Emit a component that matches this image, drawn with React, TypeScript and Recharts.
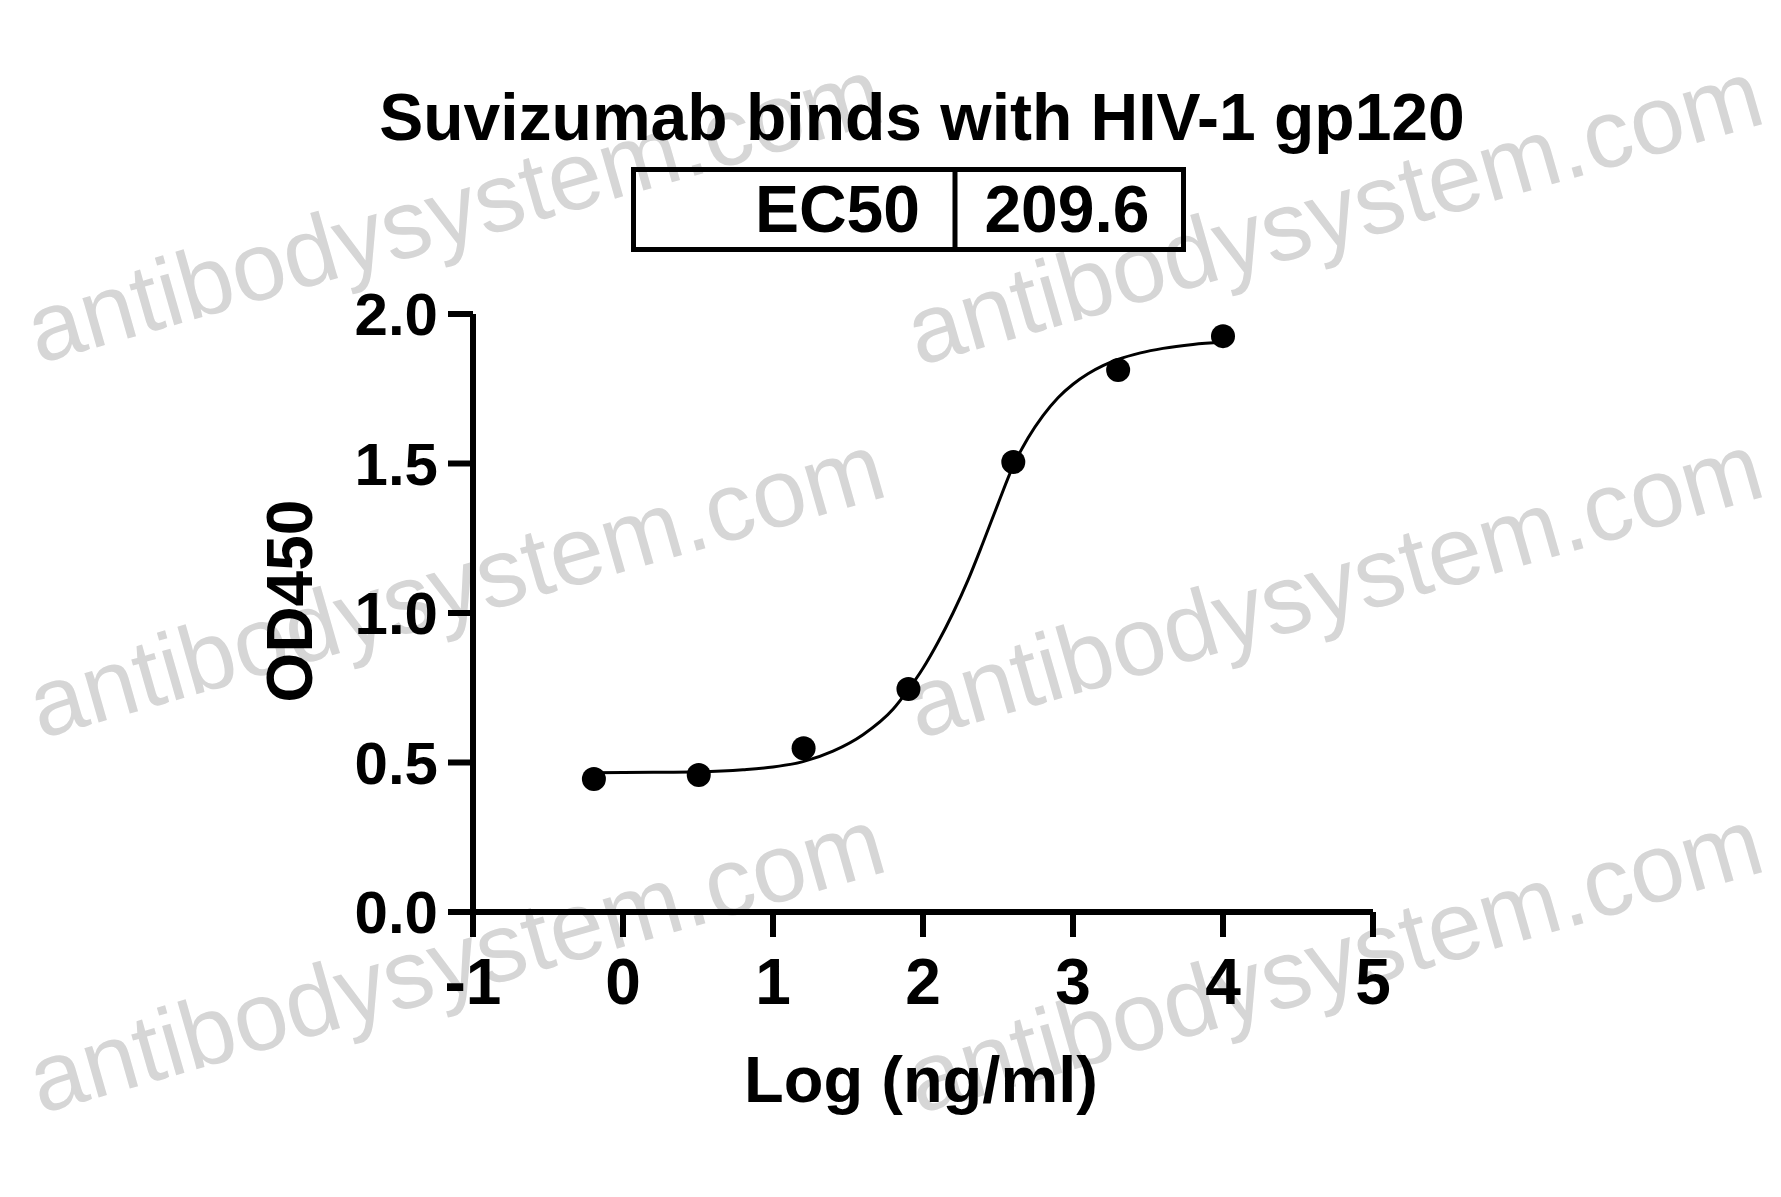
import React from "react";
import { ComposedChart, Line, Scatter, XAxis, YAxis } from "recharts";

// Measured points: log10 concentration (ng/ml) vs OD450
const logConc = [-0.194, 0.505, 1.204, 1.903, 2.602, 3.301, 4.0];
const od450 = [0.445, 0.458, 0.548, 0.746, 1.505, 1.813, 1.926];

// Fitted curve
const curveX = [-0.194, 0.2, 0.5, 0.8, 1.0, 1.2, 1.4, 1.6, 1.8, 1.9, 2.0, 2.1, 2.2, 2.3, 2.4, 2.5, 2.6, 2.7, 2.8, 2.9, 3.0, 3.1, 3.2, 3.3, 3.45, 3.6, 3.8, 4.0];
const curveY = [0.466, 0.467, 0.469, 0.476, 0.485, 0.503, 0.538, 0.593, 0.678, 0.742, 0.815, 0.902, 1.0, 1.11, 1.235, 1.365, 1.49, 1.585, 1.66, 1.72, 1.765, 1.8, 1.827, 1.848, 1.87, 1.885, 1.898, 1.906];

const xTicks = [-1, 0, 1, 2, 3, 4, 5];
const yTicks = [0, 0.5, 1.0, 1.5, 2.0];

const title = "Suvizumab binds with HIV-1 gp120";
const ec50Label = "EC50";
const ec50Value = "209.6";
const xLabel = "Log (ng/ml)";
const yLabel = "OD450";
const watermark = "antibodysystem.com";
const watermarkCenters = [
  [446, 202],
  [1326, 204],
  [448, 577],
  [1326, 577],
  [448, 952],
  [1326, 952],
];

const W = 1765;
const H = 1181;
const FONT = "'Liberation Sans', Arial, Helvetica, sans-serif";

const pointData = logConc.map((x, i) => ({ x, y: od450[i] }));
const curveData = curveX.map((x, i) => ({ x, y: curveY[i] }));

const Dot = (props: any) => {
  const { cx, cy } = props;
  if (cx == null || cy == null) return null;
  return <circle cx={cx} cy={cy} r={12} fill="#000" />;
};

export default function App() {
  return (
    <div style={{ position: "relative", width: W, height: H, background: "#fff" }}>
      <svg width={W} height={H} style={{ position: "absolute", left: 0, top: 0 }}>
        {watermarkCenters.map(([cx, cy], i) => (
          <text
            key={i}
            x={cx}
            y={cy}
            textAnchor="middle"
            dominantBaseline="central"
            transform={`rotate(-16 ${cx} ${cy})`}
            fontFamily={FONT}
            fontSize={97}
            fill="#d6d6d6"
          >
            {watermark}
          </text>
        ))}
      </svg>
      <div style={{ position: "absolute", left: 0, top: 0 }}>
        <ComposedChart
          width={W}
          height={H}
          margin={{ top: 306, right: 400, bottom: 187, left: 335 }}
        >
          <XAxis
            type="number"
            dataKey="x"
            domain={[-1, 5]}
            ticks={xTicks}
            allowDataOverflow
            height={90}
            tickSize={25}
            tickMargin={22}
            axisLine={{ stroke: "#000", strokeWidth: 6 }}
            tickLine={{ stroke: "#000", strokeWidth: 6 }}
            tick={{ fill: "#000", fontSize: 64, fontWeight: 700, fontFamily: FONT }}
          />
          <YAxis
            type="number"
            dataKey="y"
            domain={[0, 2]}
            ticks={yTicks}
            allowDataOverflow
            width={130}
            tickSize={25}
            tickMargin={10}
            tickFormatter={(v: number) => v.toFixed(1)}
            axisLine={{ stroke: "#000", strokeWidth: 6 }}
            tickLine={{ stroke: "#000", strokeWidth: 6 }}
            tick={{ fill: "#000", fontSize: 60, fontWeight: 700, fontFamily: FONT }}
          />
          <Line
            data={curveData}
            dataKey="y"
            type="monotone"
            stroke="#000"
            strokeWidth={3}
            dot={false}
            activeDot={false}
            isAnimationActive={false}
          />
          <Scatter
            data={pointData}
            dataKey="y"
            fill="#000"
            shape={Dot}
            isAnimationActive={false}
          />
        </ComposedChart>
      </div>
      <svg width={W} height={H} style={{ position: "absolute", left: 0, top: 0, pointerEvents: "none" }}>
        <text x={914} y={132} textAnchor="middle" fontFamily={FONT} fontWeight={700} fontSize={66} fill="#000">
          {title}
        </text>
        <rect x={625.5} y={161.5} width={550} height={80} fill="none" stroke="#000" strokeWidth={5} />
        <line x1={947} y1={161.5} x2={947} y2={241.5} stroke="#000" strokeWidth={5} />
        <text x={912} y={224} textAnchor="end" fontFamily={FONT} fontWeight={700} fontSize={66} fill="#000">
          {ec50Label}
        </text>
        <text x={1059} y={224} textAnchor="middle" fontFamily={FONT} fontWeight={700} fontSize={66} fill="#000">
          {ec50Value}
        </text>
        <text
          x={282}
          y={593}
          textAnchor="middle"
          dominantBaseline="central"
          transform="rotate(-90 282 593)"
          fontFamily={FONT}
          fontWeight={700}
          fontSize={64}
          fill="#000"
        >
          {yLabel}
        </text>
        <text x={913} y={1094} textAnchor="middle" fontFamily={FONT} fontWeight={700} fontSize={65} fill="#000">
          {xLabel}
        </text>
      </svg>
    </div>
  );
}
